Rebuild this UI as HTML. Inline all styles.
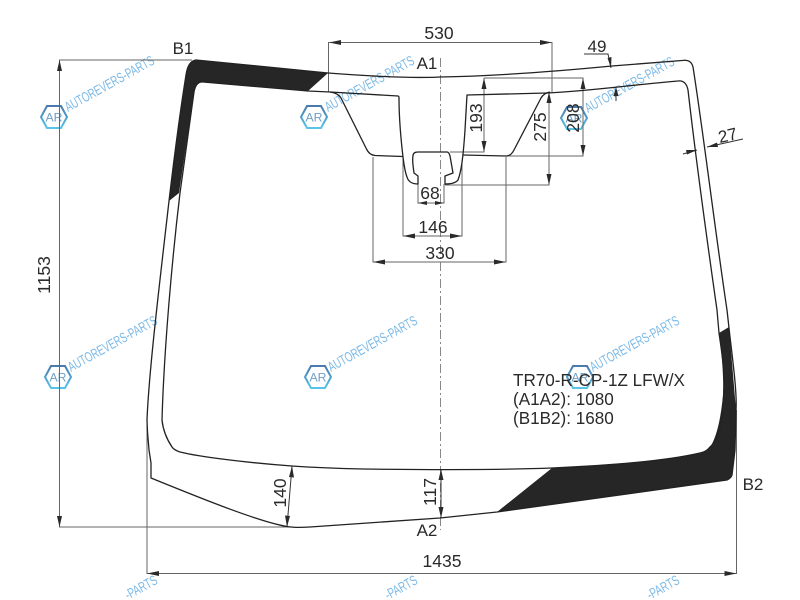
<!DOCTYPE html>
<html><head><meta charset="utf-8"><title>TR70-R-CP-1Z LFW/X</title>
<style>html,body{margin:0;padding:0;background:#fff;width:800px;height:600px;overflow:hidden}svg{display:block}
text{font-family:"Liberation Sans",sans-serif}
.l{font-size:17.5px;fill:#2a2a2a;text-anchor:middle}
.w{font-size:14px;fill:#7dbae6}
</style></head><body>
<svg width="800" height="600" viewBox="0 0 800 600" xmlns="http://www.w3.org/2000/svg">
<defs>
<linearGradient id="g" x1="0" y1="0" x2="0" y2="1"><stop offset="0" stop-color="#4a79ad"/><stop offset="1" stop-color="#58c4ea"/></linearGradient>
<g id="wl">
<polygon points="-13,0 -7,-11 7,-11 13,0 7,11 -7,11" fill="none" stroke="url(#g)" stroke-width="2"/>
<text x="0" y="4.500" text-anchor="middle" textLength="17" lengthAdjust="spacingAndGlyphs" style="font-size:12px;fill:#6f9fc6">AR</text>
</g>
<text id="wt" class="w" transform="rotate(-29)" textLength="100" lengthAdjust="spacingAndGlyphs">AUTOREVERS-PARTS</text>
<text id="wp" class="w" transform="rotate(-29)" textLength="35" lengthAdjust="spacingAndGlyphs">-PARTS</text>
</defs>
<!-- watermarks -->
<use href="#wl" x="54" y="117"/><use href="#wl" x="314" y="117"/><use href="#wl" x="574" y="118"/>
<use href="#wl" x="58" y="377"/><use href="#wl" x="318" y="377"/><use href="#wl" x="580" y="377"/>
<g>
<use href="#wt" transform="translate(68,112)"/><use href="#wt" transform="translate(328,112)"/><use href="#wt" transform="translate(588,113)"/>
<use href="#wt" transform="translate(71,372)"/><use href="#wt" transform="translate(331,372)"/><use href="#wt" transform="translate(593,372)"/>
</g>
<use href="#wp" transform="translate(128,600)"/><use href="#wp" transform="translate(388,600)"/><use href="#wp" transform="translate(650,600)"/>

<!-- dimension lines -->
<g fill="none" stroke="#666" stroke-width="1">
<path d="M440.5,58V530" stroke="#888" stroke-dasharray="9 3 2 3"/>
<path d="M59.5,60V527M59,60H192M59,527H290"/>
<path d="M147,425V573.500H736.500V410"/>
<path d="M328.500,92V42.500H552V92"/>
<path d="M484,78V152H450M484,78H583V156H506"/>
<path d="M549,92V185H445"/>
<path d="M373,157V262H506V157"/>
<path d="M403,157V236H462V160"/>
<path d="M418,184V203H444V184"/>
</g>
<g fill="none" stroke="#333" stroke-width="1">
<path d="M584,54H608L611,68"/>
<path d="M616,87V101"/>
<path d="M683,154L697,150M707,147L743,139"/>
<path d="M292,466L287,527"/>
<path d="M441,469V518"/>
</g>
<!-- arrowheads -->
<g fill="#2a2a2a">
<path d="M59.500,60l-2.500,11h5zM59.500,527l-2.500,-11h5z"/>
<path d="M147,573.500l12,-2.500v5zM736.500,573.500l-12,-2.500v5z"/>
<path d="M329,42.500l12,-2.500v5zM552,42.500l-12,-2.500v5z"/>
<path d="M484,78l-2.500,11h5zM484,152l-2.500,-11h5z"/>
<path d="M583,78l-2.500,11h5zM583,156l-2.500,-11h5z"/>
<path d="M549,92l-2.500,11h5zM549,185l-2.500,-11h5z"/>
<path d="M373,262l12,-2.500v5zM506,262l-12,-2.500v5z"/>
<path d="M403,236l12,-2.500v5zM462,236l-12,-2.500v5z"/>
<path d="M418,203l9,-2v4zM444,203l-9,-2v4z"/>
<path d="M611,68l-3.500,-10 4,-1z"/>
<path d="M616,87l-2.500,9h5z"/>
<path d="M697,150l-11,0 1,4.500zM707,147l11,0 -1,-4.500z"/>
<path d="M292,466l-3,11 5,.5zM287,527l3,-11 -5,-.5z"/>
<path d="M441,469l-2.500,11h5zM441,518l-2.500,-11h5z"/>
</g>
<!-- black frit -->
<g fill="#262626">
<path d="M169,201C175,150 182,100 186,75Q188,61 196,60L328,73L308,91L203,82Q196,81 194,92L179,193Z"/>
<path d="M497,512L552,468C620,465 680,459 700,453Q708,451 712,444Q720,428 723,395Q724,370 719,333L729,327L736,410L735,450L732,475Q731,478 727,480Z"/>
</g>
<!-- glass outline -->
<g fill="none" stroke="#222" stroke-width="1.300" stroke-linejoin="round">
<path d="M196,60L328,73C380,77 420,78 440,77C500,76 560,71 612,66L682,60.500Q691,59 693,67C703,130 715,230 727,310L730,337C734,370 737,395 736,410L735,450L732,475Q731,478 727,480L497,512L440,518L310,527Q295,528 287,526.500C260,522 205,500 151,478L151,463L149,450L147.500,432L147,420C149,370 160,280 169,201C175,150 182,100 186,75Q188,61 196,60Z"/>
<path d="M203,82L308,91L330,92Q338,93 341,98L366,148Q369,155 375,155.500L403,156.500"/>
<path d="M330,92L398,96Q399,96 399,98C399,115 401,140 403,157C404,165 405,172 407,177Q409,184 418,184V176L414,173C413,165 412,160 413,156Q413,152 418,152H447Q449,152 450,156L453,173L445,176V184Q455,184 458,180C461,172 463,160 465,130L467,95L547,93C590,91 630,85 678,81Q686,80 688,90C696,160 707,240 717,310L719,333C723,360 725,375 724,390Q723,410 720,427Q716,442 710,447Q706,452 700,453C670,460 620,465 552,468C500,470 440,470 363,469C340,468.500 320,468 292,466C250,463 200,457 180,452Q174,450 172,447C166,438 163,430 162,420C164,350 172,260 180,193L194,92Q196,81 203,82"/>
<path d="M463,155L506,156Q511,156 514,150L541,98Q544,93 550,92"/>
</g>
<!-- labels -->
<text class="l" x="183" y="54" style="font-size:17px">B1</text>
<text class="l" x="439" y="39">530</text>
<text class="l" x="427" y="69" style="font-size:17px">A1</text>
<text class="l" x="597" y="52" style="font-size:17px">49</text>
<text class="l" transform="translate(729,141) rotate(-13)" style="font-size:17px">27</text>
<text class="l" transform="translate(482,118) rotate(-90)">193</text>
<text class="l" transform="translate(546,127) rotate(-90)">275</text>
<text class="l" transform="translate(579,118) rotate(-90)">208</text>
<text class="l" x="430" y="199">68</text>
<text class="l" x="433" y="233">146</text>
<text class="l" x="440" y="259">330</text>
<text class="l" transform="translate(50,275) rotate(-90)">1153</text>
<text class="l" transform="translate(286,493) rotate(-90)">140</text>
<text class="l" transform="translate(436,492) rotate(-90)">117</text>
<text class="l" x="427" y="536" style="font-size:17px">A2</text>
<text class="l" x="442" y="567">1435</text>
<text class="l" x="753" y="490" style="font-size:17px">B2</text>
<text x="513" y="386" style="font-size:17.100px;fill:#2a2a2a">TR70-R-CP-1Z LFW/X</text>
<text x="513" y="405" style="font-size:17.100px;fill:#2a2a2a">(A1A2): 1080</text>
<text x="513" y="424" style="font-size:17.100px;fill:#2a2a2a">(B1B2): 1680</text>
</svg>
</body></html>
